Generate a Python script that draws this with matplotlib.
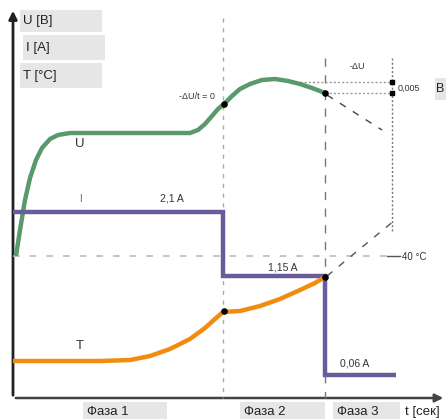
import matplotlib
matplotlib.use("Agg")
import matplotlib.pyplot as plt
from matplotlib.patches import Rectangle, FancyArrowPatch

plt.rcParams['font.family'] = ['Liberation Sans', 'DejaVu Sans']

# ---- data (drawing units = pixels) ----
u_x = [16, 20, 25, 30, 36, 42, 50, 58, 70, 120, 190, 198, 205, 212, 218, 224,
       232, 240, 250, 262, 275, 288, 300, 312, 325]
u_y = [256, 230, 200, 178, 160, 148, 139, 135, 133, 133, 133, 130, 124, 116, 109, 104,
       96, 89, 84, 80, 79, 81, 84, 88, 93]

i_x = [13, 223, 223, 325, 325, 396]
i_y = [212, 212, 276, 276, 375, 375]

t1_x = [13, 100, 130, 150, 170, 190, 205, 215, 223]
t1_y = [361, 361, 360, 356, 349, 339, 328, 319, 312]
t2_x = [223, 240, 260, 280, 300, 315, 325]
t2_y = [312, 311, 306, 299, 290, 283, 277]

marker_x = [224, 325, 224, 325]
marker_y = [104, 93, 311, 277]

axis_labels = ["U [B]", "I [A]", "T [°C]"]
phase_labels = ["Фаза 1", "Фаза 2", "Фаза 3"]
current_labels = ["2,1 A", "1,15 A", "0,06 A"]

fig = plt.figure(figsize=(4.46, 4.19), dpi=100)
ax = fig.add_axes([0, 0, 1, 1])
ax.set_xlim(0, 446)
ax.set_ylim(419, 0)
ax.axis('off')

# axes arrows
ax.add_patch(FancyArrowPatch((13, 398), (13, 8), arrowstyle='-|>', mutation_scale=12,
                             color='#222222', lw=2))
ax.add_patch(FancyArrowPatch((13, 398), (446, 398), arrowstyle='-|>', mutation_scale=12,
                             color='#444444', lw=1.8))

# label boxes
boxes = [(20, 10, 82, 22), (23, 35, 82, 25), (20, 63, 82, 25)]
for (bx, by, bw, bh), lab in zip(boxes, axis_labels):
    ax.add_patch(Rectangle((bx, by), bw, bh, facecolor='#e6e6e6', edgecolor='none'))
    ax.text(bx + 3, by + bh / 2, lab, fontsize=9.5, va='center', ha='left', color='#222222')

# phase boxes
pboxes = [(83, 402, 84, 17), (240, 402, 85, 17), (333, 402, 67, 17)]
for (bx, by, bw, bh), lab in zip(pboxes, phase_labels):
    ax.add_patch(Rectangle((bx, by), bw, bh, facecolor='#e6e6e6', edgecolor='none'))
    ax.text(bx + 4, by + 10, lab, fontsize=9.5, va='center', ha='left', color='#222222')
ax.text(405, 412, "t [сек]", fontsize=9.5, va='center', ha='left', color='#222222')

# reference lines
ax.plot([223, 223], [18, 398], color='#aaaaaa', lw=1, ls=(0, (3, 4)))
ax.plot([325, 325], [58, 398], color='#777777', lw=1, ls=(0, (6, 6)))
ax.plot([392, 392], [58, 232], color='#777777', lw=1, ls=(0, (1.5, 1.5)))
ax.plot([13, 392], [256, 256], color='#bbbbbb', lw=1.2, ls=(0, (4, 6)))
ax.plot([300, 396], [82, 82], color='#999999', lw=1, ls=(0, (1.5, 1.5)))
ax.plot([325, 396], [93, 93], color='#999999', lw=1, ls=(0, (1.5, 1.5)))
ax.plot([327, 382], [95, 130], color='#444444', lw=1, ls=(0, (5, 6)))
ax.plot([327, 395], [276, 220], color='#555555', lw=1, ls=(0, (5, 6)))
ax.plot([387, 400], [256, 256], color='#555555', lw=1)

# curves
ax.plot(u_x, u_y, color='#5a9a6a', lw=3.2, solid_capstyle='butt', solid_joinstyle='round')
ax.plot(i_x, i_y, color='#6b5b9a', lw=3.2, solid_capstyle='butt', solid_joinstyle='miter')
ax.plot(t1_x, t1_y, color='#f08c10', lw=3.2, solid_capstyle='butt')
ax.plot(t2_x, t2_y, color='#f08c10', lw=3.2, solid_capstyle='butt')
ax.scatter(marker_x, marker_y, s=14, color='black', zorder=5)
ax.scatter([392, 392], [82, 93], s=6, color='black', zorder=5, marker='s')

# annotations
ax.text(80, 147, "U", fontsize=9.5, ha='center', color='#333333')
ax.text(80, 202, "I", fontsize=7, ha='center', color='#666666')
ax.text(80, 349, "T", fontsize=9.5, ha='center', color='#333333')
ax.text(172, 201, current_labels[0], fontsize=7.5, ha='center', color='#333333')
ax.text(283, 270, current_labels[1], fontsize=7.5, ha='center', color='#333333')
ax.text(355, 366, current_labels[2], fontsize=7.5, ha='center', color='#333333')
ax.text(197, 99, "-ΔU/t = 0", fontsize=6.5, ha='center', color='#333333')
ax.text(357, 69, "-ΔU", fontsize=6.5, ha='center', color='#333333')
ax.add_patch(Rectangle((435, 78), 11, 22, facecolor='#e6e6e6', edgecolor='none'))
ax.text(398, 91, "0,005", fontsize=6.5, ha='left', color='#333333')
ax.text(436, 92, "B", fontsize=9, ha='left', color='#222222')
ax.text(402, 260, "40 °C", fontsize=7, ha='left', color='#333333')

fig.savefig("out.png", dpi=100)
